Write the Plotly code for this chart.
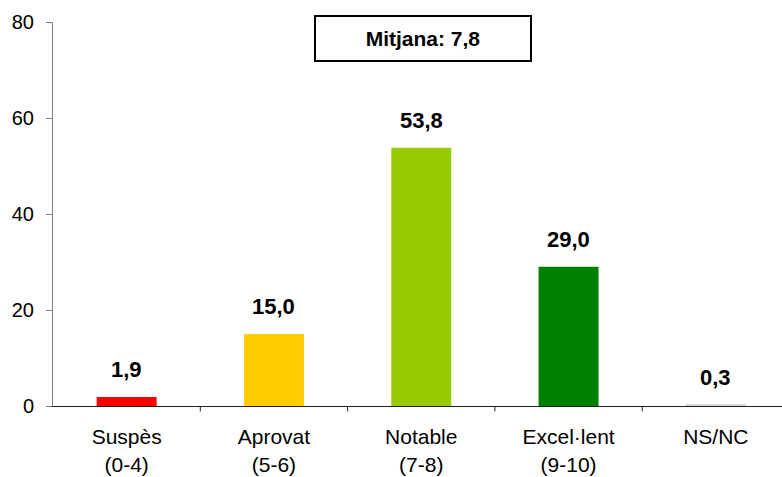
import plotly.graph_objects as go

categories = ["Suspès<br>(0-4)", "Aprovat<br>(5-6)", "Notable<br>(7-8)", "Excel·lent<br>(9-10)", "NS/NC"]
values = [1.9, 15.0, 53.8, 29.0, 0.3]
colors = ["#FF0000", "#FFCC00", "#99CC00", "#008000", "#D6D6D6"]
mean_text = "Mitjana: 7,8"

fig = go.Figure()
fig.add_trace(go.Bar(x=list(range(len(categories))), y=values, marker_color=colors, width=0.407,
                     marker_line_width=0, showlegend=False))

# value labels above bars
for i, v in enumerate(values):
    fig.add_annotation(x=i, y=v, text="<b>" + f"{v:.1f}".replace(".", ",") + "</b>",
                       showarrow=False, yanchor="bottom", yshift=13,
                       font=dict(size=22, color="black"))

# mean box
fig.add_annotation(x=0.507, y=0.9565, xref="paper", yref="paper", xanchor="center", yanchor="middle",
                   text="<b>" + mean_text + "</b>",
                   showarrow=False, font=dict(size=21, color="black"),
                   bordercolor="black", borderwidth=2, borderpad=1,
                   width=212, height=41, bgcolor="white")

fig.update_layout(
    width=782, height=477,
    margin=dict(l=53, r=0, t=22, b=71),
    plot_bgcolor="white", paper_bgcolor="white",
    font=dict(family="Liberation Sans, Arial, sans-serif", size=20, color="black"),
)
fig.update_xaxes(range=[-0.5, 4.449], tickmode="array", tickvals=list(range(len(categories))),
                 ticktext=categories, showline=True, linecolor="#202020", linewidth=1,
                 ticks="", showgrid=False, tickfont=dict(size=21), ticklabelstandoff=12)
# boundary ticks between categories
for b in [0.5, 1.5, 2.5, 3.5]:
    fig.add_shape(type="line", xref="x", yref="paper", x0=b, x1=b, y0=0, y1=-0.014,
                  line=dict(color="#202020", width=1))
fig.update_yaxes(range=[0, 80], dtick=20, showline=True, linecolor="#808080", linewidth=1,
                 ticks="outside", ticklen=6, tickcolor="#808080", showgrid=False,
                 zeroline=False, tickfont=dict(size=20), ticklabelstandoff=8)

# drop the default body margin so the figure fills the window
fig.write_html("out.html", config={"displayModeBar": False},
               post_script="document.body.style.margin='0';")
